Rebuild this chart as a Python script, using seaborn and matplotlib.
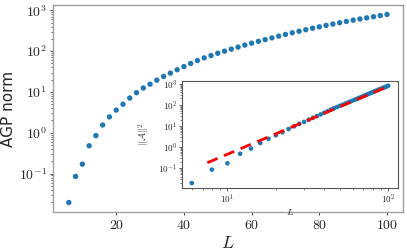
import numpy as np
import pandas as pd
import matplotlib
matplotlib.use("Agg")
import matplotlib.pyplot as plt
import seaborn as sns
from matplotlib.ticker import FuncFormatter, LogLocator

# ==== DATA ====
L_vals = list(range(6, 101, 2))
agp_norm = [0.0195, 0.085, 0.17, 0.48, 0.85, 1.55, 2.45, 3.6, 5.0, 7.1,
            9.6, 12.5, 15.5, 19.5, 24, 29, 35, 42, 50, 59,
            68.5, 78, 89, 100, 112, 126, 141, 157, 174, 192,
            212, 234, 257, 282, 308, 336, 365, 395, 428, 462,
            498, 535, 575, 615, 655, 700, 745, 795]

# power-law fit shown in the inset (two end points of the straight log-log line)
fit_L = [7.5, 100]
fit_val = [0.18, 750]

df = pd.DataFrame({"L": L_vals, "norm": agp_norm})
fit_df = pd.DataFrame({"L": fit_L, "norm": fit_val})

# ==== STYLE ====
sns.set_style("ticks")
plt.rcParams["font.family"] = ["DejaVu Sans"]
plt.rcParams["mathtext.fontset"] = "cm"

blue = "#1f77b4"

def pow_fmt(v, pos):
    if v <= 0:
        return ""
    e = int(round(np.log10(v)))
    return r"$10^{%d}$" % e

def lin_fmt(v, pos):
    return r"$%d$" % v

# ==== MAIN PLOT ====
fig = plt.figure(figsize=(4.07, 2.52), dpi=100)
ax = fig.add_axes([0.130, 0.159, 0.860, 0.821])
sns.scatterplot(data=df, x="L", y="norm", ax=ax, color=blue, s=15,
                edgecolor="none", legend=False)
ax.set_yscale("log")
ax.yaxis.set_major_locator(LogLocator(base=10, numticks=10))
ax.yaxis.set_major_formatter(FuncFormatter(pow_fmt))
ax.xaxis.set_major_formatter(FuncFormatter(lin_fmt))
ax.set_xticks([20, 40, 60, 80, 100])
ax.set_xlabel(r"$L$", fontsize=13, labelpad=1)
ax.set_ylabel("AGP norm", fontsize=11, labelpad=2)
ax.tick_params(axis="both", which="major", labelsize=10, length=2.5, width=0.6, pad=2)
ax.tick_params(axis="both", which="minor", length=1.5, width=0.5)
for sp in ax.spines.values():
    sp.set_visible(True)
    sp.set_color("#a0a0a0")
    sp.set_linewidth(1.0)

# ==== INSET (log-log) ====
ins = fig.add_axes([0.447, 0.254, 0.531, 0.425])
sns.scatterplot(data=df, x="L", y="norm", ax=ins, color=blue, s=11,
                edgecolor="none", legend=False)
sns.lineplot(data=fit_df, x="L", y="norm", ax=ins, color="red",
             linestyle=(0, (4, 2.5)), linewidth=2)
ins.set_xscale("log")
ins.set_yscale("log")
ins.yaxis.set_major_locator(LogLocator(base=10, numticks=10))
ins.yaxis.set_major_formatter(FuncFormatter(pow_fmt))
ins.xaxis.set_major_formatter(FuncFormatter(pow_fmt))
ins.set_xlabel(r"$L$", fontsize=7, labelpad=1)
ins.set_ylabel(r"$||\mathcal{A}||^2$", fontsize=7, labelpad=4)
ins.tick_params(axis="both", which="major", labelsize=6.5, length=2, width=0.5, pad=1.5)
ins.tick_params(axis="both", which="minor", length=1.2, width=0.4)
for sp in ins.spines.values():
    sp.set_visible(True)
    sp.set_color("#555555")
    sp.set_linewidth(0.8)

fig.savefig("out.png", dpi=100)
